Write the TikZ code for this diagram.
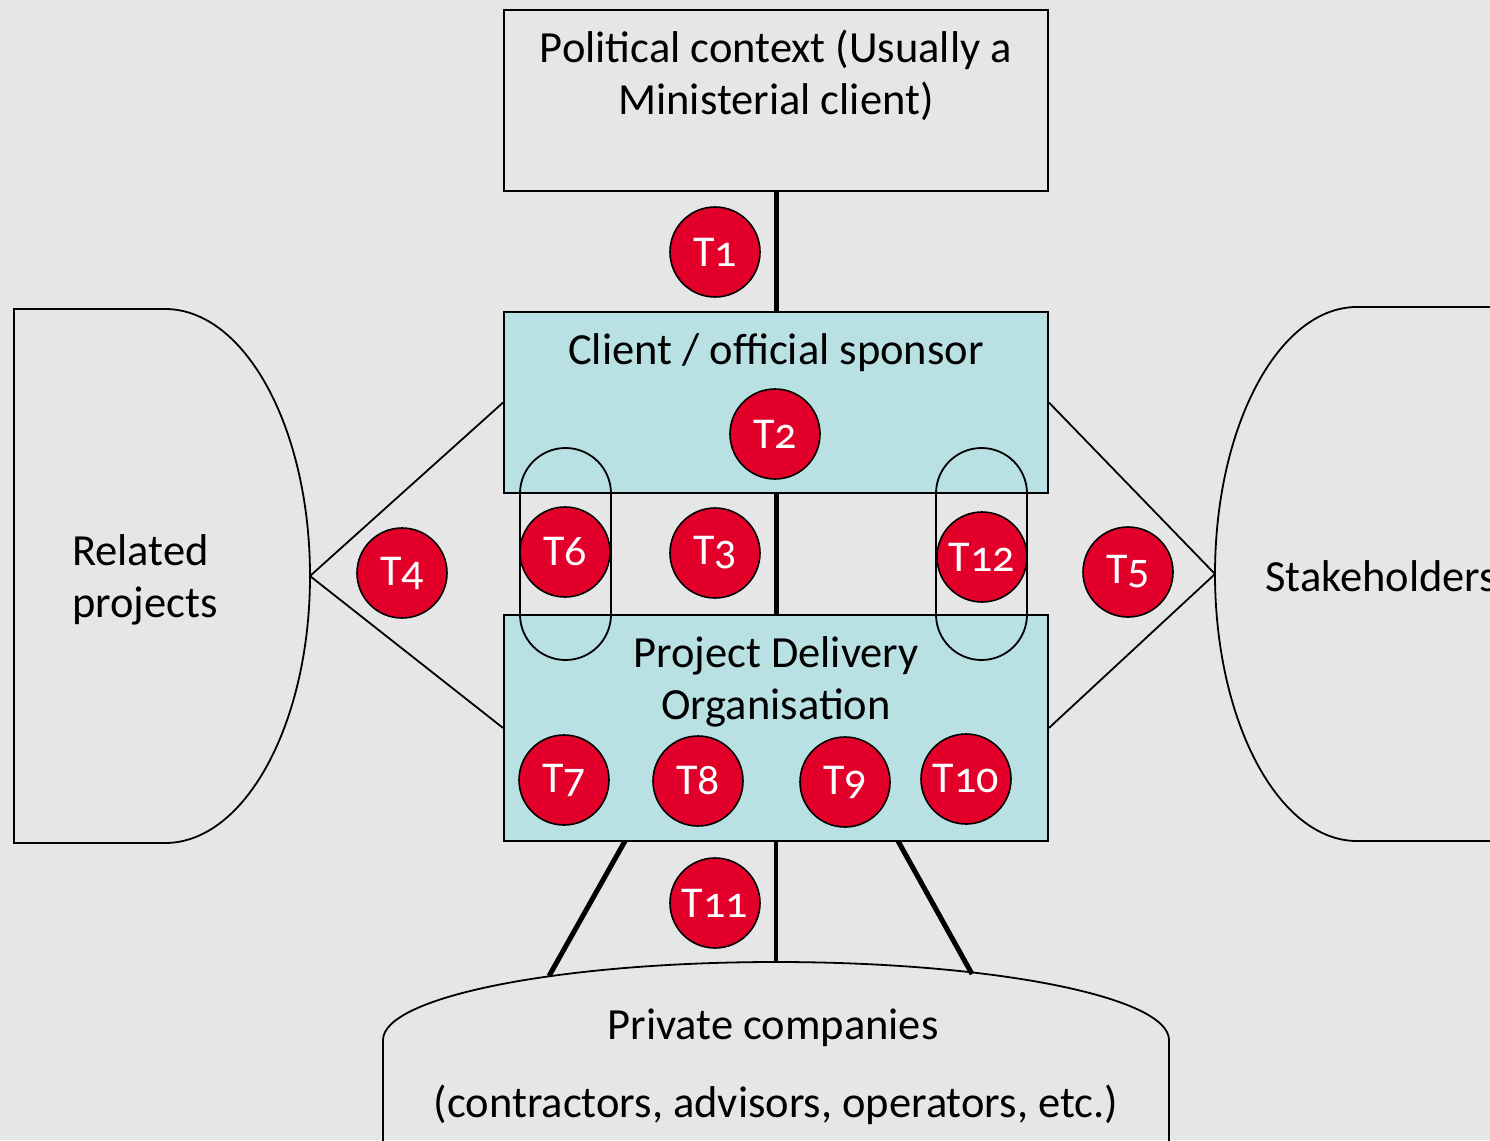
\documentclass[tikz,border=0pt]{standalone}
\usepackage{fontspec}
\setmainfont[Numbers=OldStyle]{Carlito}
\definecolor{bg}{RGB}{230,230,230}
\definecolor{boxcyan}{RGB}{185,224,227}
\definecolor{tred}{RGB}{226,0,42}
\begin{document}
\begin{tikzpicture}[x=1pt,y=-1pt,
  thinln/.style={draw=black, line width=1.8pt},
  conn/.style={draw=black, line width=5pt},
  plainbox/.style={rectangle, thinln, inner sep=0pt},
  cyanbox/.style={rectangle, thinln, fill=boxcyan, inner sep=0pt},
  pill/.style={rectangle, thinln, rounded corners=45.5pt, minimum width=91pt, minimum height=212pt, inner sep=0pt},
  tcirc/.style={circle, draw=black, line width=1.6pt, fill=tred, minimum size=90pt, inner sep=0pt, text=white, font=\fontsize{44}{48}\selectfont},
  lbl/.style={font=\fontsize{44.5}{52}\selectfont, align=center, inner sep=0pt}
]
\clip (0,0) rectangle (1490,1140);
\fill[bg] (0,0) rectangle (1490,1140);

% side shapes
\draw[thinln] (165,309) -- (14,309) -- (14,843) -- (165,843)
  arc[start angle=90, end angle=-90, x radius=145, y radius=267];
\coordinate (rptip) at (310,576);
\draw[thinln] (1510,307) -- (1357,307)
  arc[start angle=-90, end angle=-270, x radius=142, y radius=267] -- (1510,841);
\coordinate (sttip) at (1215,574);
\draw[thinln] (383,1160) -- (383,1040)
  arc[start angle=180, end angle=360, x radius=393, y radius=78] -- (1169,1160);

% boxes
\node[plainbox, minimum width=544pt, minimum height=181pt] (pol) at (776,100.5) {};
\node[cyanbox, minimum width=544pt, minimum height=181pt] (cli) at (776,402.5) {};
\node[cyanbox, minimum width=544pt, minimum height=226pt] (pdo) at (776,728) {};

% connectors
\draw[conn] (pol.south) -- (cli.north);
\draw[conn] (cli.south) -- (pdo.north);
\draw[thinln] (rptip) -- (cli.west);
\draw[thinln] (rptip) -- (pdo.west);
\draw[thinln] (sttip) -- (cli.east);
\draw[thinln] (sttip) -- (pdo.east);
\coordinate (b1s) at (625,841);
\coordinate (b1e) at (549,976);
\coordinate (b3s) at (898,841);
\coordinate (b3e) at (972,974);
\coordinate (b2e) at (776,962);
\draw[conn] (b1s) -- (b1e);
\draw[conn, line width=4.5pt] (pdo.south) -- (b2e);
\draw[conn] (b3s) -- (b3e);

% pills
\node[pill] (p6) at (565.5,554) {};
\node[pill] (p12) at (981.5,554) {};

% texts
\node[lbl] (tpol) at (776,75) {Political context (Usually a\\Ministerial client)};
\node[lbl] (tcli) at (776,353) {Client / official sponsor};
\node[lbl] (tpdo) at (776,682) {Project Delivery\\Organisation};
\node[lbl, align=left, anchor=west] (trp) at (72,580) {Related\\projects};
\node[lbl, anchor=west] (tst) at (1265,576) {Stakeholders};
\node[lbl] (tpc1) at (773,1028) {Private companies};
\node[lbl] (tpc2) at (776,1105) {(contractors, advisors, operators, etc.)};

% T circles
\node[tcirc] (T1) at (715,252) {T1};
\node[tcirc] (T2) at (775,434) {T2};
\node[tcirc] (T3) at (715,553) {T3};
\node[tcirc] (T4) at (402,573) {T4};
\node[tcirc] (T5) at (1128,572) {T5};
\node[tcirc] (T6) at (565,552) {T6};
\node[tcirc] (T12) at (982,557) {T12};
\node[tcirc] (T7) at (564,780) {T7};
\node[tcirc] (T8) at (698,781) {T8};
\node[tcirc] (T9) at (845,782) {T9};
\node[tcirc] (T10) at (966,779) {T10};
\node[tcirc] (T11) at (715,903) {T11};
\end{tikzpicture}
\end{document}
